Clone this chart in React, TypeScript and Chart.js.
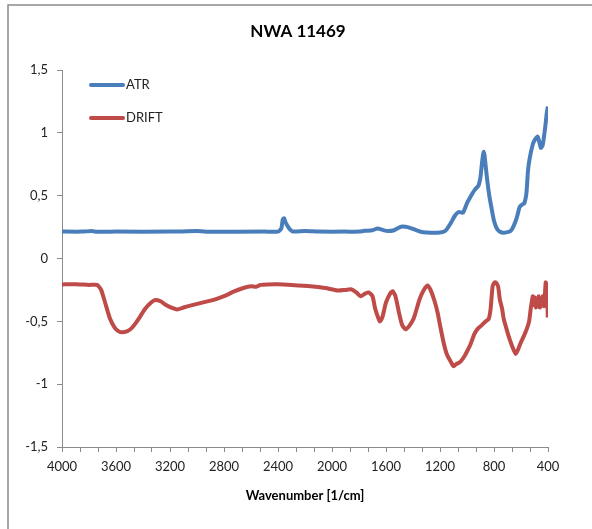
import React, { useEffect, useRef } from "react";
import { Chart, registerables } from "chart.js";

Chart.register(...registerables);

const TITLE = "NWA 11469";
const X_TITLE = "Wavenumber [1/cm]";
const SERIES_NAMES = ["ATR", "DRIFT"];
const Y_TICKS = [-1.5, -1, -0.5, 0, 0.5, 1, 1.5];
const X_LABELS = [4000, 3600, 3200, 2800, 2400, 2000, 1600, 1200, 800, 400];

const ATR_WN = [4000, 3850, 3780, 3740, 3600, 3200, 3000, 2900, 2500, 2400, 2375, 2365, 2355, 2345, 2330, 2310, 2290, 2200, 2100, 1900, 1800, 1760, 1700, 1663, 1620, 1589, 1540, 1500, 1477, 1440, 1400, 1350, 1300, 1200, 1160, 1121, 1090, 1062, 1030, 1000, 970, 940, 915, 900, 890, 882, 876, 870, 862, 850, 835, 820, 800, 780, 760, 735, 700, 676, 654, 630, 610, 590, 575, 560, 548, 535, 515, 500, 476, 465, 453, 440, 431, 420, 410, 401];
const ATR_ABS = [0.214, 0.214, 0.218, 0.213, 0.214, 0.214, 0.218, 0.213, 0.214, 0.214, 0.24, 0.31, 0.32, 0.29, 0.26, 0.23, 0.215, 0.218, 0.214, 0.214, 0.214, 0.22, 0.225, 0.238, 0.226, 0.218, 0.225, 0.248, 0.254, 0.25, 0.235, 0.215, 0.207, 0.207, 0.22, 0.28, 0.34, 0.37, 0.365, 0.44, 0.5, 0.55, 0.58, 0.65, 0.75, 0.82, 0.85, 0.82, 0.74, 0.62, 0.5, 0.41, 0.3, 0.24, 0.215, 0.205, 0.21, 0.22, 0.26, 0.33, 0.41, 0.43, 0.44, 0.52, 0.7, 0.8, 0.9, 0.94, 0.97, 0.93, 0.88, 0.9, 0.96, 1.05, 1.15, 1.21];

const DRIFT_WN = [4000, 3900, 3800, 3740, 3710, 3681, 3644, 3610, 3580, 3555, 3520, 3490, 3458, 3420, 3384, 3340, 3310, 3270, 3230, 3180, 3147, 3100, 3050, 2976, 2900, 2865, 2800, 2720, 2657, 2600, 2560, 2530, 2479, 2400, 2300, 2160, 2050, 1960, 1900, 1860, 1820, 1789, 1755, 1729, 1700, 1680, 1655, 1645, 1625, 1600, 1570, 1551, 1530, 1500, 1480, 1455, 1430, 1396, 1350, 1320, 1292, 1270, 1240, 1218, 1200, 1173, 1150, 1121, 1099, 1080, 1060, 1047, 1020, 1000, 973, 945, 921, 890, 861, 839, 825, 810, 795, 787, 770, 757, 740, 728, 710, 691, 665, 639, 620, 602, 580, 557, 540, 528, 513, 505, 497, 490, 482, 475, 468, 460, 452, 445, 438, 430, 422, 417, 410, 405, 402];
const DRIFT_ABS = [-0.206, -0.205, -0.21, -0.21, -0.25, -0.35, -0.48, -0.55, -0.58, -0.587, -0.58, -0.56, -0.52, -0.46, -0.4, -0.35, -0.33, -0.34, -0.37, -0.395, -0.405, -0.39, -0.375, -0.355, -0.335, -0.325, -0.3, -0.26, -0.235, -0.22, -0.225, -0.21, -0.206, -0.205, -0.21, -0.22, -0.235, -0.255, -0.25, -0.245, -0.27, -0.3, -0.28, -0.27, -0.3, -0.4, -0.48, -0.5, -0.46, -0.35, -0.28, -0.26, -0.3, -0.45, -0.53, -0.563, -0.54, -0.48, -0.32, -0.25, -0.214, -0.25, -0.34, -0.43, -0.53, -0.67, -0.76, -0.82, -0.857, -0.84, -0.83, -0.82, -0.78, -0.74, -0.68, -0.6, -0.56, -0.53, -0.5, -0.48, -0.4, -0.22, -0.19, -0.19, -0.22, -0.325, -0.4, -0.48, -0.55, -0.62, -0.7, -0.76, -0.72, -0.67, -0.62, -0.56, -0.5, -0.4, -0.3, -0.37, -0.31, -0.39, -0.32, -0.38, -0.3, -0.39, -0.33, -0.37, -0.3, -0.38, -0.27, -0.19, -0.22, -0.25, -0.47];

const ATR_COLOR = "#4A7EBB";
const DRIFT_COLOR = "#BE4B48";
const FONT = "Lato, 'Liberation Sans', sans-serif";

const decorPlugin = {
  id: "decor",
  afterDraw(chart: any) {
    const ctx = chart.ctx;
    ctx.save();
    // frame
    ctx.strokeStyle = "#8a8a8a";
    ctx.lineWidth = 1.5;
    ctx.beginPath();
    ctx.moveTo(8, 529);
    ctx.lineTo(8, 5);
    ctx.lineTo(592, 5);
    ctx.stroke();
    // title
    ctx.fillStyle = "#000";
    ctx.font = `bold 17px ${FONT}`;
    ctx.textAlign = "center";
    ctx.textBaseline = "middle";
    ctx.fillText(TITLE, 298, 32);
    // legend
    const items = [
      { name: SERIES_NAMES[0], color: ATR_COLOR, y: 85 },
      { name: SERIES_NAMES[1], color: DRIFT_COLOR, y: 118 },
    ];
    ctx.font = `13px ${FONT}`;
    ctx.textAlign = "left";
    for (const it of items) {
      ctx.strokeStyle = it.color;
      ctx.lineWidth = 4;
      ctx.lineCap = "round";
      ctx.beginPath();
      ctx.moveTo(91, it.y);
      ctx.lineTo(123, it.y);
      ctx.stroke();
      ctx.fillStyle = "#222";
      ctx.fillText(it.name, 126, it.y);
    }
    ctx.restore();
  },
};

export default function App() {
  const ref = useRef<HTMLCanvasElement>(null);
  useEffect(() => {
    const canvas = ref.current!;
    const chart = new Chart(canvas, {
      type: "line",
      data: {
        datasets: [
          {
            label: SERIES_NAMES[0],
            data: ATR_WN.map((w, i) => ({ x: w, y: ATR_ABS[i] })),
            borderColor: ATR_COLOR,
            borderWidth: 4,
            pointRadius: 0,
            tension: 0.2,
            borderJoinStyle: "round",
          },
          {
            label: SERIES_NAMES[1],
            data: DRIFT_WN.map((w, i) => ({ x: w, y: DRIFT_ABS[i] })),
            borderColor: DRIFT_COLOR,
            borderWidth: 4,
            pointRadius: 0,
            tension: 0.2,
            borderJoinStyle: "round",
          },
        ],
      },
      options: {
        animation: false,
        responsive: false,
        events: [],
        layout: { padding: { top: 70, right: 44, left: 0, bottom: 0 } },
        plugins: { legend: { display: false }, tooltip: { enabled: false }, title: { display: false } },
        scales: {
          x: {
            type: "linear",
            reverse: true,
            min: 400,
            max: 4000,
            afterFit: (s: any) => {
              s.height = 82;
            },
            afterBuildTicks: (s: any) => {
              const t = [];
              for (let i = 0; i <= 27; i++) t.push({ value: 400 + (3600 * i) / 27 });
              s.ticks = t;
            },
            ticks: {
              autoSkip: false,
              maxRotation: 0,
              padding: 7,
              color: "#222",
              font: { family: FONT, size: 13 },
              callback: (v: any) => {
                const n = Number(v);
                const k = Math.round(n / 400);
                return Math.abs(n - k * 400) < 1e-6 && X_LABELS.includes(k * 400) ? String(k * 400) : "";
              },
            },
            grid: { drawOnChartArea: false, drawTicks: true, tickLength: 5, color: "#8a8a8a" },
            border: { color: "#8a8a8a", width: 1 },
            title: {
              display: true,
              text: X_TITLE,
              color: "#000",
              font: { family: FONT, size: 13, weight: "bold" },
              padding: { top: 0, bottom: 25 },
            },
          },
          y: {
            min: -1.5,
            max: 1.5,
            afterFit: (s: any) => {
              s.width = 62;
            },
            afterBuildTicks: (s: any) => {
              s.ticks = Y_TICKS.map((v) => ({ value: v }));
            },
            ticks: {
              padding: 9,
              color: "#222",
              font: { family: FONT, size: 13 },
              callback: (v: any) => String(v).replace(".", ","),
            },
            grid: { drawOnChartArea: false, drawTicks: true, tickLength: 5, color: "#8a8a8a" },
            border: { color: "#8a8a8a", width: 1 },
          },
        },
      },
      plugins: [decorPlugin],
    });
    return () => chart.destroy();
  }, []);
  return (
    <div style={{ position: "absolute", left: 0, top: 0, width: 592, height: 529, background: "#fff" }}>
      <canvas ref={ref} width={592} height={529} style={{ display: "block" }} />
    </div>
  );
}
